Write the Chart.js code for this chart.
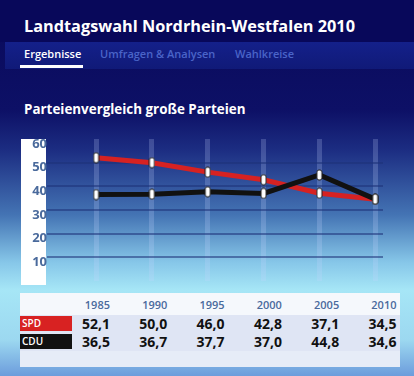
<!DOCTYPE html>
<html>
<head>
<meta charset="utf-8">
<script src="https://cdn.jsdelivr.net/npm/chart.js@4/dist/chart.umd.min.js"></script>
<style>
  body { margin: 0; }
  #page {
    position: relative; width: 414px; height: 376px; overflow: hidden;
    font-family: "Open Sans", sans-serif;
    background: linear-gradient(to bottom, #09095a 0px, #0d1066 110px, #1c2d82 150px, #4474b4 215px, #86c6e8 262px, #a6e6f6 290px, #9cd8f0 340px, #6c9cdc 376px);
  }
  #head { position: absolute; left: 0; top: 0; width: 414px; height: 42px; background: #08085a; }
  #tabs { position: absolute; left: 5px; top: 42px; width: 409px; height: 27px; background: linear-gradient(to bottom, #14208a, #101a78); }
  .txt { position: absolute; white-space: nowrap; }
  #title { left: 24px; top: 15px; font-size: 16.3px; font-weight: 700; color: #fff; }
  .tab { top: 46px; font-size: 11px; font-weight: 600; color: #4a64c8; }
  #under { position: absolute; left: 20px; top: 65px; width: 63px; height: 3px; background: #fff; }
  #sub { left: 24px; top: 100px; font-size: 13.4px; font-weight: 700; color: #fff; }
  #ybox { position: absolute; left: 21px; top: 139px; width: 25px; height: 146px; background: #fff; }
  #wrap { position: absolute; left: 21px; top: 130px; width: 371px; height: 160px; }
  #tbl { position: absolute; left: 20px; top: 293px; width: 380px; height: 74px; background: #e6ecf7; }
  .row { position: absolute; left: 0; width: 380px; }
  .cell { position: absolute; text-align: right; width: 50px; }
  .yr { font-size: 11px; font-weight: 600; color: #4a6a9c; }
  .val { font-size: 14px; font-weight: 700; color: #111; }
  .tag { position: absolute; left: 0; width: 52px; height: 15px; color: #fff; font-size: 10px; font-weight: 600; line-height: 15px; padding-left: 2px; box-sizing: border-box; }
</style>
</head>
<body>
<div id="page">
  <div id="head"></div>
  <div id="tabs"></div>
  <div class="txt" id="title">Landtagswahl Nordrhein-Westfalen 2010</div>
  <div class="txt tab" style="left:24px;color:#fff">Ergebnisse</div>
  <div class="txt tab" style="left:100px">Umfragen &amp; Analysen</div>
  <div class="txt tab" style="left:235px">Wahlkreise</div>
  <div id="under"></div>
  <div class="txt" id="sub">Parteienvergleich große Parteien</div>
  <div id="ybox"></div>
  <div id="wrap"><canvas id="chart"></canvas></div>
  <div id="tbl"></div>
</div>
<script>
const years = [1985, 1990, 1995, 2000, 2005, 2010];
const spd = [52.1, 50.0, 46.0, 42.8, 37.1, 34.5];
const cdu = [36.5, 36.7, 37.7, 37.0, 44.8, 34.6];
const yTicks = [0, 10, 20, 30, 40, 50, 60];

// table below the chart
const tbl = document.getElementById("tbl");
const fmt = v => v.toFixed(1).replace(".", ",");
function addRow(top, height, bg, tag, tagBg, values, cls) {
  const row = document.createElement("div");
  row.className = "row";
  row.style.top = top + "px";
  row.style.height = height + "px";
  row.style.background = bg;
  if (tag) {
    const t = document.createElement("div");
    t.className = "tag";
    t.style.top = "1px";
    t.style.background = tagBg;
    t.textContent = tag;
    row.appendChild(t);
  }
  values.forEach((v, i) => {
    const c = document.createElement("div");
    c.className = "cell " + cls;
    c.style.left = (40 + i * 57.3) + "px";
    c.style.top = cls == "yr" ? "4px" : "-1px";
    c.textContent = v;
    row.appendChild(c);
  });
  tbl.appendChild(row);
}
addRow(0, 22, "#f5f8fc", null, null, years, "yr");
addRow(22, 18, "#dfe5f4", "SPD", "#d82222", spd.map(fmt), "val");
addRow(40, 18, "#dfe5f4", "CDU", "#111111", cdu.map(fmt), "val");

// point marker: small white rounded rectangle
const mark = document.createElement("canvas");
mark.width = 7; mark.height = 12;
const m = mark.getContext("2d");
m.fillStyle = "#fff";
m.strokeStyle = "#222";
m.lineWidth = 1;
m.beginPath();
m.roundRect(1, 1, 5, 10, 2);
m.fill();
m.stroke();

const ctx = document.getElementById("chart");
new Chart(ctx, {
  type: "line",
  data: {
    datasets: [
      {
        label: "CDU",
        data: years.map((y, i) => ({ x: y, y: cdu[i] })),
        borderColor: "#111111",
        borderWidth: 5,
        pointStyle: mark,
        order: 0,
      },
      {
        label: "SPD",
        data: years.map((y, i) => ({ x: y, y: spd[i] })),
        borderColor: "#d62222",
        borderWidth: 5,
        pointStyle: mark,
        order: 1,
      },
    ],
  },
  options: {
    responsive: true,
    maintainAspectRatio: false,
    animation: false,
    layout: { padding: { top: 4, bottom: 4 } },
    plugins: { legend: { display: false }, tooltip: { enabled: false } },
    scales: {
      x: {
        type: "linear",
        min: 1980.6,
        max: 2010.7,
        afterBuildTicks: s => { s.ticks = years.map(v => ({ value: v })); },
        afterFit: s => { s.height = 0; },
        ticks: { display: false },
        border: { display: false },
        grid: { color: "rgba(200,215,255,0.22)", lineWidth: 5, drawTicks: false },
      },
      y: {
        min: 0,
        max: 60,
        afterBuildTicks: s => { s.ticks = yTicks.map(v => ({ value: v })); },
        afterFit: s => { s.width = 26; },
        border: { display: false },
        grid: {
          drawTicks: false,
          lineWidth: 2,
          color: c => (c.tick.value > 0 && c.tick.value < 60 ? "rgba(30,50,120,0.55)" : "rgba(0,0,0,0)"),
        },
        ticks: {
          padding: 0,
          crossAlign: "center",
          labelOffset: 5,
          color: "#4a6a9c",
          font: { family: "Open Sans", size: 13, weight: "bold" },
          callback: v => (v === 0 ? "" : v),
        },
      },
    },
  },
});
</script>
</body>
</html>
